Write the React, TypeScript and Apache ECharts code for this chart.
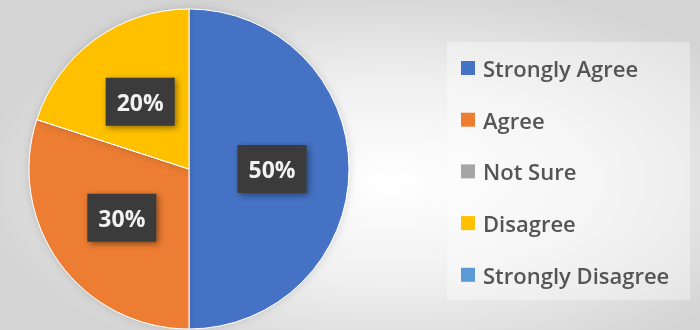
import React, { useEffect, useRef } from "react";
import * as echarts from "echarts";

const categories = ["Strongly Agree", "Agree", "Not Sure", "Disagree", "Strongly Disagree"];
const values = [50, 30, 0, 20, 0];
const colors = ["#4472C4", "#ED7D31", "#A5A5A5", "#FFC000", "#5B9BD5"];

export default function App() {
  const ref = useRef<HTMLDivElement>(null);
  useEffect(() => {
    if (!ref.current) return;
    const chart = echarts.init(ref.current, undefined, { renderer: "svg" });
    const data = categories.map((name, i) => ({
      name,
      value: values[i],
      itemStyle: { color: colors[i] },
      label: { show: values[i] > 0 },
    }));
    chart.setOption({
      animation: false,
      backgroundColor: new echarts.graphic.RadialGradient(0.56, 0.55, 0.6, [
        { offset: 0, color: "#ffffff" },
        { offset: 0.5, color: "#f0f0f0" },
        { offset: 1, color: "#d4d4d4" },
      ]),
      graphic: [
        {
          type: "rect",
          shape: { x: 447, y: 42, width: 243, height: 258 },
          style: { fill: "rgba(255,255,255,0.35)" },
          z: 0,
        },
      ],
      legend: {
        orient: "vertical",
        left: 456,
        top: 51,
        itemWidth: 14,
        itemHeight: 14,
        itemGap: 27.7,
        icon: "rect",
        itemStyle: { borderWidth: 0 },
        data: categories,
        textStyle: {
          fontFamily: "Open Sans",
          fontSize: 22,
          fontWeight: 600,
          lineHeight: 24,
          color: "#555555",
          padding: [0, 0, 0, 3],
        },
      },
      series: [
        {
          type: "pie",
          center: [189, 169],
          radius: 160,
          startAngle: 90,
          clockwise: true,
          data,
          itemStyle: {
            borderColor: "#ffffff",
            borderWidth: 1,
            shadowBlur: 8,
            shadowColor: "rgba(0,0,0,0.15)",
          },
          labelLine: { show: false },
          label: {
            position: "inside",
            formatter: "{c}%",
            fontFamily: "Open Sans",
            fontWeight: "bold",
            fontSize: 23,
            lineHeight: 26,
            color: "#f2f2f2",
            backgroundColor: "#3a3a3a",
            padding: [11, 11],
            shadowBlur: 6,
            shadowColor: "rgba(0,0,0,0.45)",
            shadowOffsetX: 2,
            shadowOffsetY: 2,
          },
          emphasis: { disabled: true },
        },
      ],
    });
    return () => chart.dispose();
  }, []);
  return (
    <div
      ref={ref}
      style={{ position: "fixed", left: 0, top: 0, width: 700, height: 330 }}
    />
  );
}
